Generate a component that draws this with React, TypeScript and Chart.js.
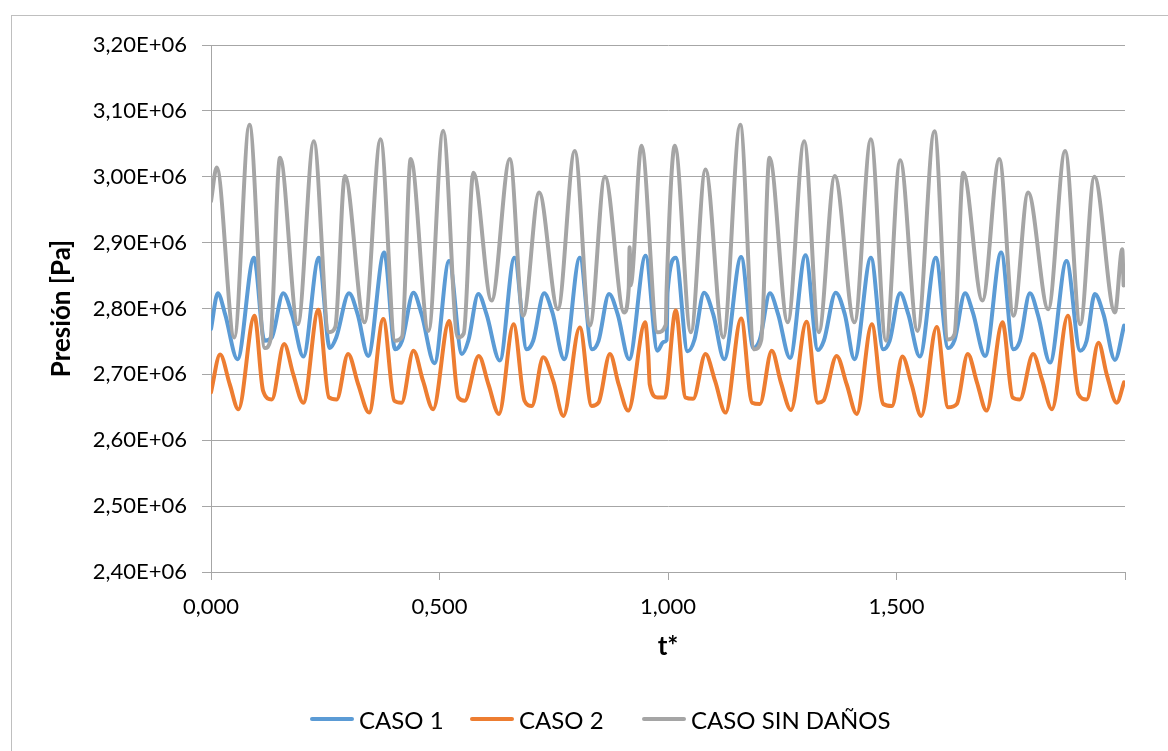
import React, { useEffect, useRef } from "react";
import { Chart, registerables } from "chart.js";

Chart.register(...registerables);

const FONT = "Lato, 'Noto Sans', 'DejaVu Sans', sans-serif";
const GRID = "#a6a6a6";

// ---------- data (t* , pressure in Pa) ----------
const seriesNames = ["CASO 1", "CASO 2", "CASO SIN DAÑOS"];
const seriesColors = ["#5B9BD5", "#ED7D31", "#A5A5A5"];

const caso1T = [
  0.0, 0.015, 0.031, 0.058, 0.094, 0.117, 0.133, 0.158, 0.178, 0.202, 0.236, 0.26, 0.274, 0.302, 0.321,
  0.344, 0.379, 0.403, 0.418, 0.443, 0.461, 0.489, 0.521, 0.549, 0.563, 0.585, 0.603, 0.632, 0.664, 0.691,
  0.705, 0.729, 0.747, 0.773, 0.807, 0.834, 0.848, 0.871, 0.89, 0.915, 0.951, 0.977, 0.99, 0.997, 0.999,
  1.017, 1.043, 1.058, 1.079, 1.099, 1.123, 1.16, 1.187, 1.201, 1.223, 1.241, 1.267, 1.301, 1.328, 1.341,
  1.367, 1.387, 1.408, 1.444, 1.471, 1.485, 1.508, 1.526, 1.551, 1.586, 1.613, 1.627, 1.65, 1.667, 1.694,
  1.729, 1.756, 1.77, 1.792, 1.81, 1.836, 1.872, 1.902, 1.916, 1.934, 1.953, 1.978, 1.998,
];
const caso1P = [
  2.769e6, 2.823e6, 2.791e6, 2.723e6, 2.877e6, 2.751e6, 2.756e6, 2.823e6, 2.789e6, 2.727e6, 2.877e6, 2.74e6, 2.756e6, 2.823e6, 2.791e6,
  2.728e6, 2.885e6, 2.738e6, 2.751e6, 2.824e6, 2.791e6, 2.717e6, 2.872e6, 2.731e6, 2.751e6, 2.822e6, 2.791e6, 2.721e6, 2.877e6, 2.738e6,
  2.751e6, 2.823e6, 2.794e6, 2.723e6, 2.877e6, 2.738e6, 2.751e6, 2.822e6, 2.791e6, 2.723e6, 2.88e6, 2.736e6, 2.749e6, 2.752e6, 2.824e6,
  2.877e6, 2.735e6, 2.753e6, 2.824e6, 2.791e6, 2.723e6, 2.878e6, 2.74e6, 2.753e6, 2.823e6, 2.791e6, 2.725e6, 2.881e6, 2.737e6, 2.751e6,
  2.824e6, 2.791e6, 2.723e6, 2.877e6, 2.738e6, 2.751e6, 2.823e6, 2.791e6, 2.727e6, 2.877e6, 2.74e6, 2.752e6, 2.823e6, 2.794e6, 2.728e6,
  2.885e6, 2.738e6, 2.751e6, 2.823e6, 2.789e6, 2.718e6, 2.872e6, 2.736e6, 2.751e6, 2.822e6, 2.791e6, 2.722e6, 2.774e6,
];

const caso2T = [
  0.0, 0.02, 0.041, 0.06, 0.095, 0.114, 0.133, 0.16, 0.18, 0.202, 0.235, 0.258, 0.275, 0.3, 0.322,
  0.346, 0.377, 0.401, 0.417, 0.443, 0.464, 0.486, 0.521, 0.541, 0.555, 0.586, 0.607, 0.63, 0.662, 0.686,
  0.702, 0.727, 0.749, 0.771, 0.807, 0.833, 0.848, 0.873, 0.892, 0.913, 0.95, 0.957, 0.96, 0.977, 0.993,
  1.017, 1.038, 1.055, 1.082, 1.103, 1.126, 1.16, 1.184, 1.201, 1.227, 1.247, 1.269, 1.303, 1.328, 1.34,
  1.369, 1.391, 1.413, 1.446, 1.471, 1.49, 1.513, 1.533, 1.554, 1.588, 1.613, 1.632, 1.656, 1.676, 1.697,
  1.732, 1.754, 1.77, 1.799, 1.818, 1.84, 1.875, 1.898, 1.916, 1.942, 1.96, 1.982, 1.998,
];
const caso2P = [
  2.673e6, 2.73e6, 2.685e6, 2.647e6, 2.789e6, 2.675e6, 2.662e6, 2.746e6, 2.7e6, 2.657e6, 2.798e6, 2.665e6, 2.662e6, 2.731e6, 2.685e6,
  2.642e6, 2.784e6, 2.66e6, 2.657e6, 2.736e6, 2.69e6, 2.647e6, 2.781e6, 2.665e6, 2.66e6, 2.728e6, 2.685e6, 2.64e6, 2.776e6, 2.66e6,
  2.652e6, 2.726e6, 2.69e6, 2.637e6, 2.771e6, 2.652e6, 2.657e6, 2.731e6, 2.685e6, 2.645e6, 2.779e6, 2.728e6, 2.685e6, 2.665e6, 2.665e6,
  2.797e6, 2.665e6, 2.663e6, 2.731e6, 2.69e6, 2.642e6, 2.785e6, 2.657e6, 2.655e6, 2.736e6, 2.688e6, 2.646e6, 2.78e6, 2.657e6, 2.66e6,
  2.728e6, 2.685e6, 2.64e6, 2.776e6, 2.655e6, 2.652e6, 2.727e6, 2.685e6, 2.637e6, 2.772e6, 2.65e6, 2.655e6, 2.731e6, 2.688e6, 2.645e6,
  2.779e6, 2.665e6, 2.662e6, 2.731e6, 2.693e6, 2.647e6, 2.789e6, 2.67e6, 2.662e6, 2.748e6, 2.7e6, 2.657e6, 2.688e6,
];

const sinDanosT = [
  0.0, 0.0125, 0.051, 0.084, 0.118, 0.13, 0.151, 0.19, 0.225, 0.258, 0.272, 0.293, 0.336, 0.371, 0.403,
  0.418, 0.437, 0.476, 0.508, 0.54, 0.553, 0.574, 0.614, 0.654, 0.683, 0.718, 0.759, 0.796, 0.829, 0.862,
  0.904, 0.914, 0.916, 0.918, 0.942, 0.977, 0.995, 0.997, 1.015, 1.05, 1.082, 1.121, 1.158, 1.189, 1.204,
  1.222, 1.262, 1.298, 1.33, 1.365, 1.408, 1.444, 1.477, 1.508, 1.546, 1.583, 1.613, 1.627, 1.646, 1.688,
  1.725, 1.756, 1.788, 1.832, 1.869, 1.902, 1.933, 1.978, 1.994, 1.997,
];
const sinDanosP = [
  2.963e6, 3.014e6, 2.756e6, 3.079e6, 2.74e6, 2.752e6, 3.029e6, 2.776e6, 3.054e6, 2.764e6, 2.772e6, 3.001e6, 2.779e6, 3.057e6, 2.751e6,
  2.757e6, 3.027e6, 2.766e6, 3.07e6, 2.756e6, 2.762e6, 3.006e6, 2.812e6, 3.027e6, 2.789e6, 2.976e6, 2.799e6, 3.039e6, 2.774e6, 3.0e6,
  2.794e6, 2.83e6, 2.893e6, 2.835e6, 3.047e6, 2.764e6, 2.775e6, 2.83e6, 3.047e6, 2.764e6, 3.011e6, 2.756e6, 3.079e6, 2.738e6, 2.752e6,
  3.029e6, 2.779e6, 3.054e6, 2.764e6, 3.001e6, 2.779e6, 3.057e6, 2.751e6, 3.025e6, 2.766e6, 3.069e6, 2.753e6, 2.761e6, 3.006e6, 2.812e6,
  3.027e6, 2.789e6, 2.976e6, 2.799e6, 3.039e6, 2.776e6, 3.0e6, 2.794e6, 2.89e6, 2.835e6,
];

const xMin = 0;
const xMax = 2;
const xStep = 0.5;
const yMin = 2.4e6;
const yMax = 3.2e6;
const yStep = 1e5;

const toPoints = (t: number[], p: number[]) => t.map((x, i) => ({ x, y: p[i] }));

const legendLefts = [310, 470, 642];

export default function App() {
  const canvasRef = useRef<HTMLCanvasElement | null>(null);

  useEffect(() => {
    if (!canvasRef.current) return;
    const seriesData = [toPoints(caso1T, caso1P), toPoints(caso2T, caso2P), toPoints(sinDanosT, sinDanosP)];
    const chart = new Chart(canvasRef.current, {
      type: "scatter",
      data: {
        datasets: seriesData.map((d, i) => ({
          label: seriesNames[i],
          data: d,
          showLine: true,
          borderColor: seriesColors[i],
          backgroundColor: seriesColors[i],
          borderWidth: 4,
          pointRadius: 0,
          pointHoverRadius: 0,
          cubicInterpolationMode: "monotone" as const,
          borderCapStyle: "round" as const,
          borderJoinStyle: "round" as const,
          order: 3 - i,
        })),
      },
      options: {
        responsive: false,
        animation: false,
        events: [],
        layout: { padding: { left: 0, right: 43, top: 45, bottom: 0 } },
        plugins: {
          legend: { display: false },
          tooltip: { enabled: false },
        },
        scales: {
          x: {
            type: "linear",
            min: xMin,
            max: xMax,
            ticks: {
              stepSize: xStep,
              autoSkip: false,
              maxRotation: 0,
              padding: 14,
              color: "#000",
              font: { family: FONT, size: 22 },
              callback: (v: any) => (Number(v) >= xMax - 1e-9 ? "" : Number(v).toFixed(3).replace(".", ",")),
            },
            grid: { drawOnChartArea: false, drawTicks: true, tickLength: 8, color: GRID },
            border: { color: GRID, width: 1 },
            title: {
              display: true,
              text: "t*",
              color: "#000",
              font: { family: FONT, size: 26, weight: "bold" },
              padding: { top: 0, bottom: 89 },
            },
            afterFit: (s: any) => {
              s.height = 179;
            },
          },
          y: {
            type: "linear",
            min: yMin,
            max: yMax,
            ticks: {
              stepSize: yStep,
              padding: 15,
              color: "#000",
              font: { family: FONT, size: 22 },
              callback: (v: any) => (Number(v) / 1e6).toFixed(2).replace(".", ",") + "E+06",
            },
            grid: { color: GRID, tickLength: 9, drawTicks: true },
            border: { color: GRID, width: 1 },
            title: {
              display: true,
              text: "Presión [Pa]",
              color: "#000",
              font: { family: FONT, size: 26, weight: "bold" },
              padding: { top: 46, bottom: 0 },
            },
            afterFit: (s: any) => {
              s.width = 211;
            },
          },
        },
      } as any,
    });
    return () => chart.destroy();
  }, []);

  return (
    <div
      style={{
        position: "absolute",
        left: 0,
        top: 0,
        width: 1168,
        height: 751,
        overflow: "hidden",
        background: "#fff",
      }}
    >
      <div
        style={{
          position: "absolute",
          left: 11,
          top: 15,
          width: 1300,
          height: 900,
          border: "1px solid #bfbfbf",
          boxSizing: "border-box",
        }}
      />
      <canvas
        ref={canvasRef}
        width={1168}
        height={751}
        style={{ position: "absolute", left: 0, top: 0, display: "block" }}
      />
      {seriesNames.map((name, i) => (
        <div
          key={name}
          style={{
            position: "absolute",
            left: legendLefts[i],
            top: 704,
            height: 30,
            display: "flex",
            alignItems: "center",
            fontFamily: FONT,
            fontSize: 24,
            color: "#000",
            whiteSpace: "nowrap",
          }}
        >
          <span
            style={{
              display: "inline-block",
              width: 44,
              height: 4,
              borderRadius: 2,
              background: seriesColors[i],
              marginRight: 5,
            }}
          />
          <span>{name}</span>
        </div>
      ))}
    </div>
  );
}
